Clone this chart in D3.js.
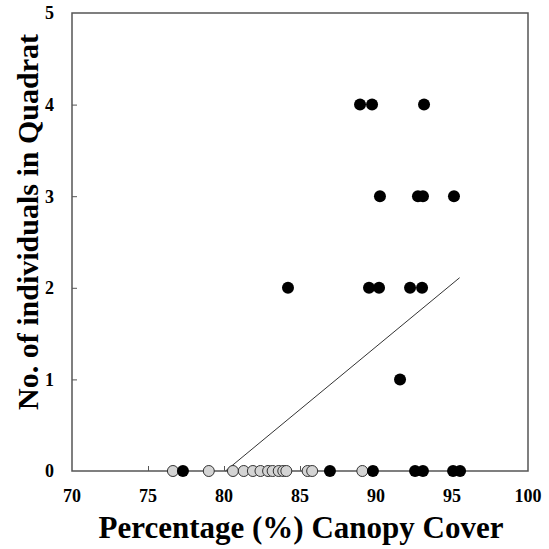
<!DOCTYPE html>
<html>
<head>
<meta charset="utf-8">
<script src="https://cdn.jsdelivr.net/npm/d3@7"></script>
<style>
  html, body { margin: 0; padding: 0; background: #fff; }
</style>
</head>
<body>
<figure id="scatter" style="margin:0"></figure>
<script>
// quadrats with individuals present (black)
const presentCover = [88.95, 89.74, 93.16, 90.26, 92.76, 93.09, 95.13,
  84.21, 89.54, 90.2, 92.24, 93.03, 91.58,
  77.3, 86.97, 89.8, 92.57, 93.09, 95.07, 95.53];
const presentCount = [4, 4, 4, 3, 3, 3, 3,
  2, 2, 2, 2, 2, 1,
  0, 0, 0, 0, 0, 0, 0];

// quadrats with no individuals (grey)
const absentCover = [76.64, 79.0, 80.59, 81.3, 81.9, 82.4, 82.9, 83.2, 83.6, 83.9, 84.1, 85.5, 85.8, 89.1];
const absentCount = absentCover.map(() => 0);

// fitted line end points
const trendCover = [80.1, 95.5];
const trendCount = [0, 2.11];

const xTicks = [70, 75, 80, 85, 90, 95, 100];
const yTicks = [0, 1, 2, 3, 4, 5];

const W = 549, H = 549;
const mLeft = 72, mRight = 528, mTop = 13, mBottom = 471;
const serif = "'Liberation Serif', 'Times New Roman', Times, serif";

const svg = d3.select("figure#scatter")
  .append("svg")
  .attr("width", W)
  .attr("height", H)
  .style("font-family", serif)
  .style("font-weight", "bold");

const x = d3.scaleLinear().domain([70, 100]).range([mLeft, mRight]);
const y = d3.scaleLinear().domain([0, 5]).range([mBottom, mTop]);

// frame
svg.append("rect")
  .attr("x", mLeft).attr("y", mTop)
  .attr("width", mRight - mLeft).attr("height", mBottom - mTop)
  .attr("fill", "none")
  .attr("stroke", "#555")
  .attr("stroke-width", 1.5);

// inner ticks
svg.append("g")
  .attr("transform", "translate(0," + mBottom + ")")
  .call(d3.axisTop(x).tickValues(xTicks.slice(1, -1)).tickSize(5).tickFormat(""))
  .call(g => g.select(".domain").remove())
  .selectAll("line").attr("stroke", "#555");

svg.append("g")
  .attr("transform", "translate(" + mLeft + ",0)")
  .call(d3.axisRight(y).tickValues(yTicks.slice(1, -1)).tickSize(5).tickFormat(""))
  .call(g => g.select(".domain").remove())
  .selectAll("line").attr("stroke", "#555");

// tick labels
svg.selectAll(".xlab")
  .data(xTicks)
  .enter()
  .append("text")
  .attr("x", d => x(d))
  .attr("y", 502)
  .attr("text-anchor", "middle")
  .style("font-size", "18px")
  .text(d => d);

svg.selectAll(".ylab")
  .data(yTicks)
  .enter()
  .append("text")
  .attr("x", 54)
  .attr("y", d => y(d))
  .attr("dy", "0.35em")
  .attr("text-anchor", "end")
  .style("font-size", "18px")
  .text(d => d);

// axis titles
svg.append("text")
  .attr("x", 301)
  .attr("y", 538)
  .attr("text-anchor", "middle")
  .style("font-size", "31px")
  .text("Percentage (%) Canopy Cover");

svg.append("text")
  .attr("transform", "translate(38,222) rotate(-90)")
  .attr("text-anchor", "middle")
  .style("font-size", "30px")
  .text("No. of individuals in Quadrat");

// trend line
svg.append("line")
  .attr("x1", x(trendCover[0])).attr("y1", y(trendCount[0]))
  .attr("x2", x(trendCover[1])).attr("y2", y(trendCount[1]))
  .attr("stroke", "#333")
  .attr("stroke-width", 1);

// grey points
svg.selectAll(".absent")
  .data(absentCover)
  .enter()
  .append("circle")
  .attr("cx", d => x(d))
  .attr("cy", (d, i) => y(absentCount[i]))
  .attr("r", 5.5)
  .attr("fill", "#d4d4d4")
  .attr("stroke", "#333")
  .attr("stroke-width", 1);

// black points
svg.selectAll(".present")
  .data(presentCover)
  .enter()
  .append("circle")
  .attr("cx", d => x(d))
  .attr("cy", (d, i) => y(presentCount[i]))
  .attr("r", 6)
  .attr("fill", "#000");
</script>
</body>
</html>
